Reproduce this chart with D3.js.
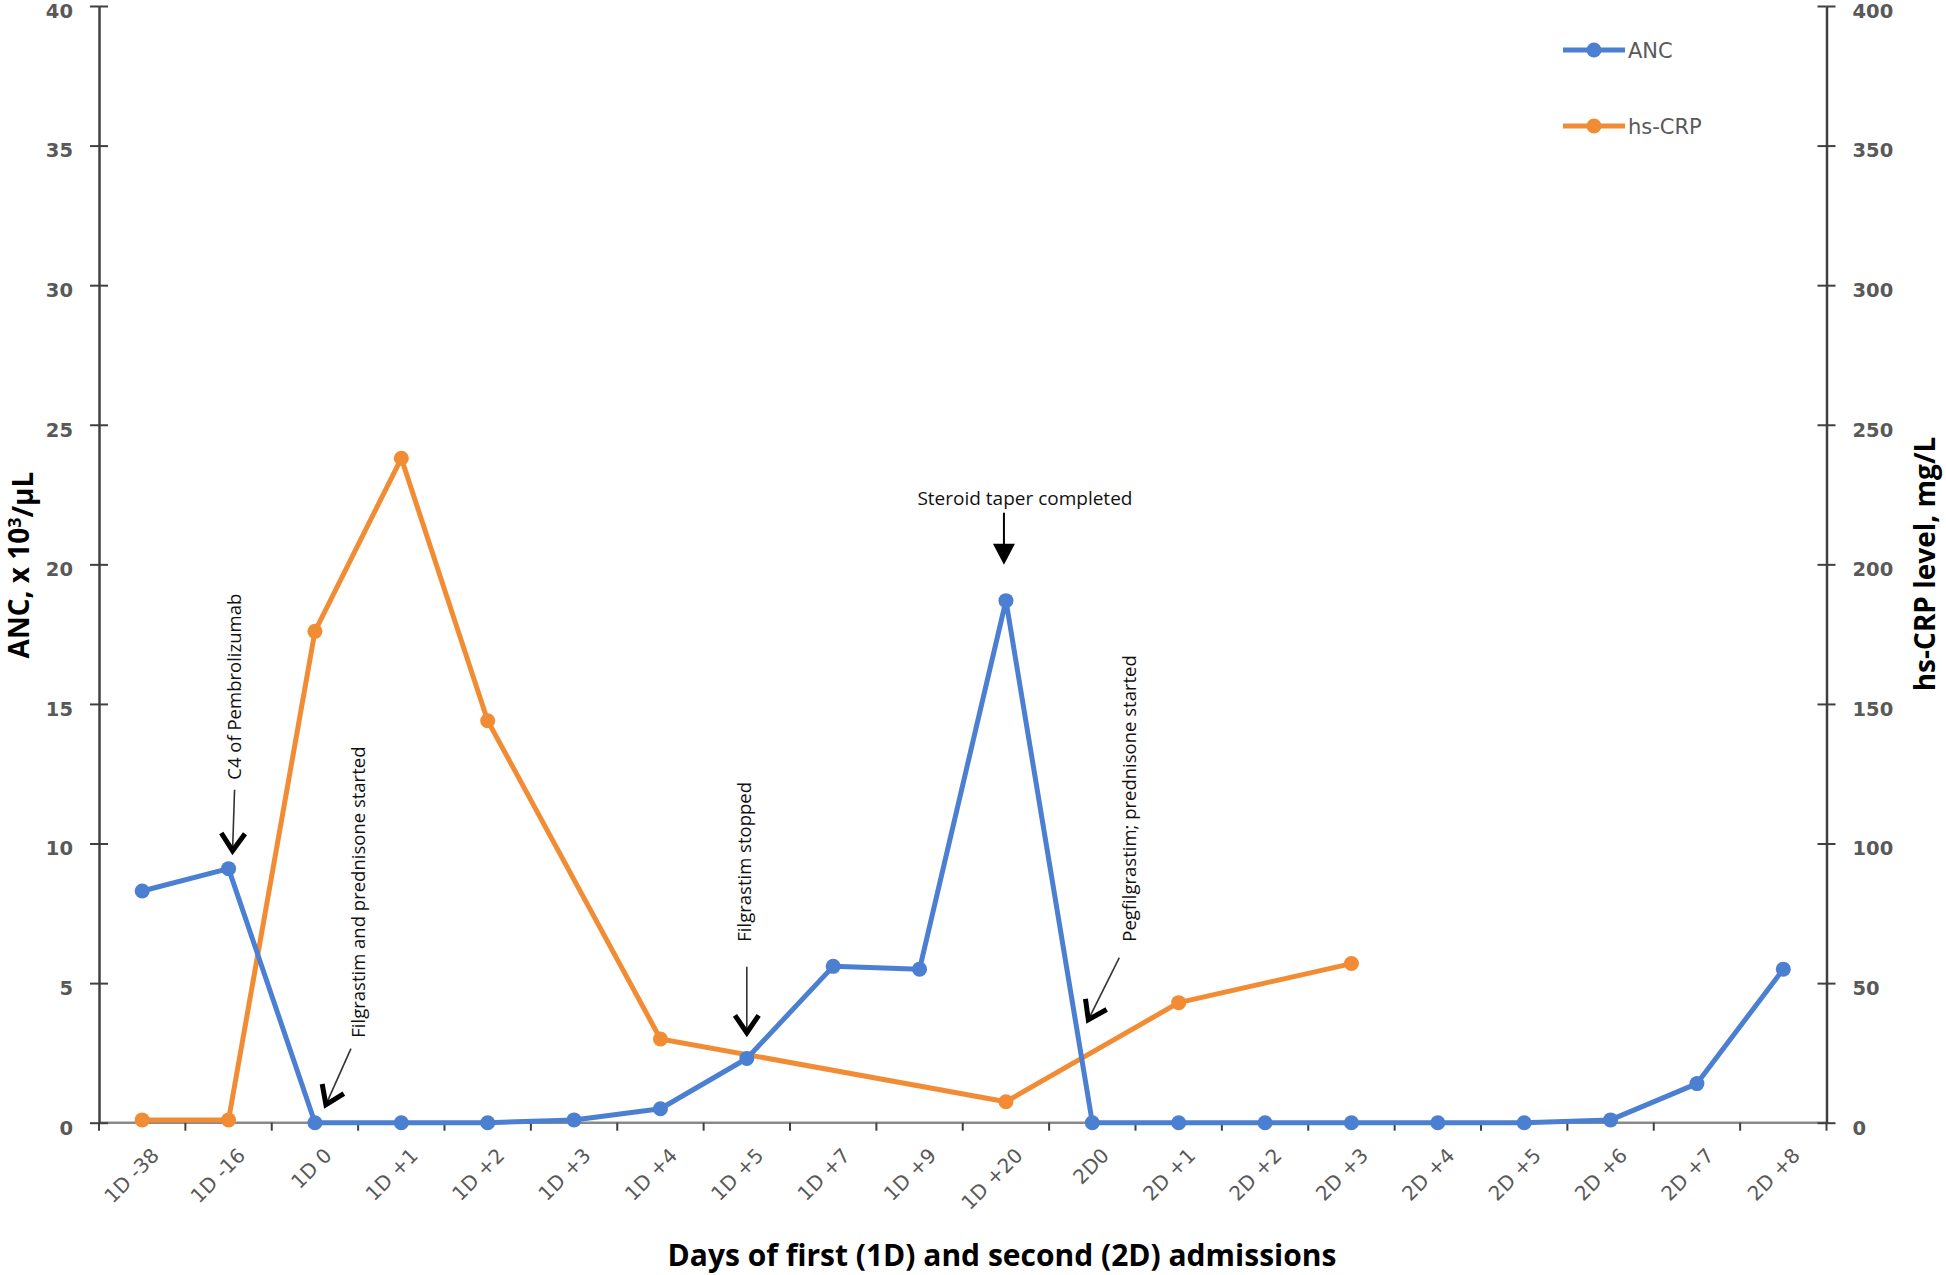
<!DOCTYPE html>
<html>
<head>
<meta charset="utf-8">
<script src="https://cdn.jsdelivr.net/npm/d3@7"></script>
<style>
  body { margin: 0; background: #fff; }
  svg { display: block; }
</style>
</head>
<body>
<div id="chart"></div>
<script>
// Data
const categories = [
  "1D -38", "1D -16", "1D 0", "1D +1", "1D +2", "1D +3", "1D +4", "1D +5",
  "1D +7", "1D +9", "1D +20", "2D0", "2D +1", "2D +2", "2D +3", "2D +4",
  "2D +5", "2D +6", "2D +7", "2D +8",
];
const ancValues = [8.3, 9.1, 0, 0, 0, 0.1, 0.5, 2.3, 5.6, 5.5, 18.7, 0, 0, 0, 0, 0, 0, 0.1, 1.4, 5.5];
const crpValues = [1, 1, 176, 238, 144, null, 30, null, null, null, 7.5, null, 43, null, 57, null, null, null, null, null];
const ancTicks = [0, 5, 10, 15, 20, 25, 30, 35, 40];
const crpTicks = [0, 50, 100, 150, 200, 250, 300, 350, 400];

const width = 1946;
const height = 1275;
const margin = { top: 6, right: 119.5, bottom: 152.3, left: 99 };
const blue = "#4a7fd2";
const orange = "#f28c34";

const svg = d3
  .select("#chart")
  .append("svg")
  .attr("width", width)
  .attr("height", height);

const x = d3
  .scaleBand()
  .domain(categories)
  .range([margin.left, width - margin.right]);
const cx = (c) => x(c) + x.bandwidth() / 2;

const yL = d3.scaleLinear().domain([0, 40]).range([height - margin.bottom, margin.top]);
const yR = d3.scaleLinear().domain([0, 400]).range([height - margin.bottom, margin.top]);
const y0 = yL(0);

// x axis line and boundary ticks
svg
  .append("line")
  .attr("x1", margin.left)
  .attr("x2", width - margin.right)
  .attr("y1", y0)
  .attr("y2", y0)
  .attr("stroke", "#8a8a8a")
  .attr("stroke-width", 2.5);

const bounds = categories.map((c) => x(c)).concat([width - margin.right]);
svg
  .selectAll(".xtick")
  .data(bounds)
  .join("line")
  .attr("x1", (d) => d)
  .attr("x2", (d) => d)
  .attr("y1", y0)
  .attr("y2", y0 + 8)
  .attr("stroke", "#404040")
  .attr("stroke-width", 2);

svg
  .selectAll(".xlabel")
  .data(categories)
  .join("text")
  .attr("transform", (d) => `translate(${cx(d) + 18},${y0 + 34}) rotate(-45)`)
  .attr("text-anchor", "end")
  .attr("font-family", "DejaVu Sans")
  .attr("font-size", "20px")
  .attr("fill", "#595959")
  .text((d) => d);

// y axes
function styleAxis(g, side) {
  g.select(".domain").attr("stroke", "#404040").attr("stroke-width", 2.5);
  g.selectAll(".tick line").attr("stroke", "#404040").attr("stroke-width", 2);
  g.selectAll(".tick")
    .append("line")
    .attr("x2", side === "left" ? 9 : -9)
    .attr("stroke", "#404040")
    .attr("stroke-width", 2);
  g.selectAll(".tick text")
    .attr("dy", "0.58em")
    .attr("font-family", "DejaVu Sans")
    .attr("font-weight", "bold")
    .attr("font-size", "19.5px")
    .attr("fill", "#595959");
}

svg
  .append("g")
  .attr("transform", `translate(${margin.left},0)`)
  .call(d3.axisLeft(yL).tickValues(ancTicks).tickSize(9).tickSizeOuter(0).tickPadding(17))
  .call((g) => styleAxis(g, "left"));

svg
  .append("g")
  .attr("transform", `translate(${width - margin.right},0)`)
  .call(d3.axisRight(yR).tickValues(crpTicks).tickSize(9).tickSizeOuter(0).tickPadding(17))
  .call((g) => styleAxis(g, "right"));

// series
const ancData = categories.map((c, i) => ({ c, v: ancValues[i] }));
const crpData = categories
  .map((c, i) => ({ c, v: crpValues[i] }))
  .filter((d) => d.v !== null);

const lineL = d3.line().x((d) => cx(d.c)).y((d) => yL(d.v));
const lineR = d3.line().x((d) => cx(d.c)).y((d) => yR(d.v));

svg
  .append("path")
  .datum(crpData)
  .attr("fill", "none")
  .attr("stroke", orange)
  .attr("stroke-width", 5)
  .attr("stroke-linejoin", "round")
  .attr("d", lineR);
svg
  .selectAll(".crp")
  .data(crpData)
  .join("circle")
  .attr("cx", (d) => cx(d.c))
  .attr("cy", (d) => yR(d.v))
  .attr("r", 7.5)
  .attr("fill", orange);

svg
  .append("path")
  .datum(ancData)
  .attr("fill", "none")
  .attr("stroke", blue)
  .attr("stroke-width", 5)
  .attr("stroke-linejoin", "round")
  .attr("d", lineL);
svg
  .selectAll(".anc")
  .data(ancData)
  .join("circle")
  .attr("cx", (d) => cx(d.c))
  .attr("cy", (d) => yL(d.v))
  .attr("r", 7.5)
  .attr("fill", blue);

// annotations: offsets are relative to the category centre and the x axis
const notes = [
  { text: "C4 of Pembrolizumab", cat: "1D -16", tx: 6, ty: -343, from: [6, -333], to: [4, -272] },
  { text: "Filgrastim and prednisone started", cat: "1D 0", tx: 44, ty: -85, from: [36, -74], to: [11, -18] },
  { text: "Filgrastim stopped", cat: "1D +5", tx: -2, ty: -181, from: [0, -156], to: [0, -90] },
  { text: "Pegfilgrastim; prednisone started", cat: "2D0", tx: 37, ty: -181, from: [27, -165], to: [-4, -103] },
];

notes.forEach((n) => {
  const bx = cx(n.cat);
  svg
    .append("text")
    .attr("transform", `translate(${bx + n.tx},${y0 + n.ty}) rotate(-90)`)
    .attr("dy", "0.35em")
    .attr("font-family", "Open Sans")
    .attr("font-size", "18.5px")
    .attr("fill", "#111")
    .text(n.text);

  const x1 = bx + n.from[0], y1 = y0 + n.from[1];
  const x2 = bx + n.to[0], y2 = y0 + n.to[1];
  svg
    .append("line")
    .attr("x1", x1).attr("y1", y1)
    .attr("x2", x2).attr("y2", y2)
    .attr("stroke", "#333")
    .attr("stroke-width", 1.6);

  const ang = Math.atan2(y1 - y2, x1 - x2);
  const len = 21, spread = 0.6;
  const a1 = [x2 + len * Math.cos(ang + spread), y2 + len * Math.sin(ang + spread)];
  const a2 = [x2 + len * Math.cos(ang - spread), y2 + len * Math.sin(ang - spread)];
  svg
    .append("path")
    .attr("d", `M${a1[0]},${a1[1]}L${x2},${y2}L${a2[0]},${a2[1]}`)
    .attr("fill", "none")
    .attr("stroke", "#000")
    .attr("stroke-width", 5)
    .attr("stroke-linejoin", "miter");
});

// steroid taper note (horizontal, filled arrow head)
const steroidX = cx("1D +20");
svg
  .append("text")
  .attr("x", steroidX + 19)
  .attr("y", y0 - 618)
  .attr("text-anchor", "middle")
  .attr("font-family", "Open Sans")
  .attr("font-size", "19px")
  .attr("fill", "#111")
  .text("Steroid taper completed");
svg
  .append("line")
  .attr("x1", steroidX - 2).attr("x2", steroidX - 2)
  .attr("y1", y0 - 610).attr("y2", y0 - 575)
  .attr("stroke", "#000")
  .attr("stroke-width", 2);
svg
  .append("path")
  .attr("d", `M${steroidX - 13},${y0 - 579}L${steroidX + 9},${y0 - 579}L${steroidX - 2},${y0 - 558}Z`)
  .attr("fill", "#000");

// legend
const legendItems = [
  { label: "ANC", color: blue, y: 50 },
  { label: "hs-CRP", color: orange, y: 126 },
];
legendItems.forEach((item) => {
  const g = svg.append("g").attr("transform", `translate(1563,${item.y})`);
  g.append("line")
    .attr("x1", 0).attr("x2", 62)
    .attr("stroke", item.color)
    .attr("stroke-width", 5);
  g.append("circle").attr("cx", 31).attr("r", 7.5).attr("fill", item.color);
  g.append("text")
    .attr("x", 65)
    .attr("dy", "0.36em")
    .attr("font-family", "DejaVu Sans")
    .attr("font-size", "21px")
    .attr("fill", "#595959")
    .text(item.label);
});

// axis titles
svg
  .append("text")
  .attr("transform", "translate(19,565) rotate(-90)")
  .attr("text-anchor", "middle")
  .attr("dy", "0.35em")
  .attr("font-family", "Open Sans")
  .attr("font-weight", "bold")
  .attr("font-size", "28px")
  .attr("fill", "#000")
  .html('ANC, x 10<tspan dy="-0.45em" font-size="18px">3</tspan><tspan dy="0.45em">/µL</tspan>');

svg
  .append("text")
  .attr("transform", "translate(1925,564) rotate(-90)")
  .attr("text-anchor", "middle")
  .attr("dy", "0.35em")
  .attr("font-family", "Open Sans")
  .attr("font-weight", "bold")
  .attr("font-size", "28px")
  .attr("fill", "#000")
  .text("hs-CRP level, mg/L");

svg
  .append("text")
  .attr("x", 1002)
  .attr("y", 1266)
  .attr("text-anchor", "middle")
  .attr("font-family", "Open Sans")
  .attr("font-weight", "bold")
  .attr("font-size", "30px")
  .attr("fill", "#000")
  .text("Days of first (1D) and second (2D) admissions");
</script>
</body>
</html>
